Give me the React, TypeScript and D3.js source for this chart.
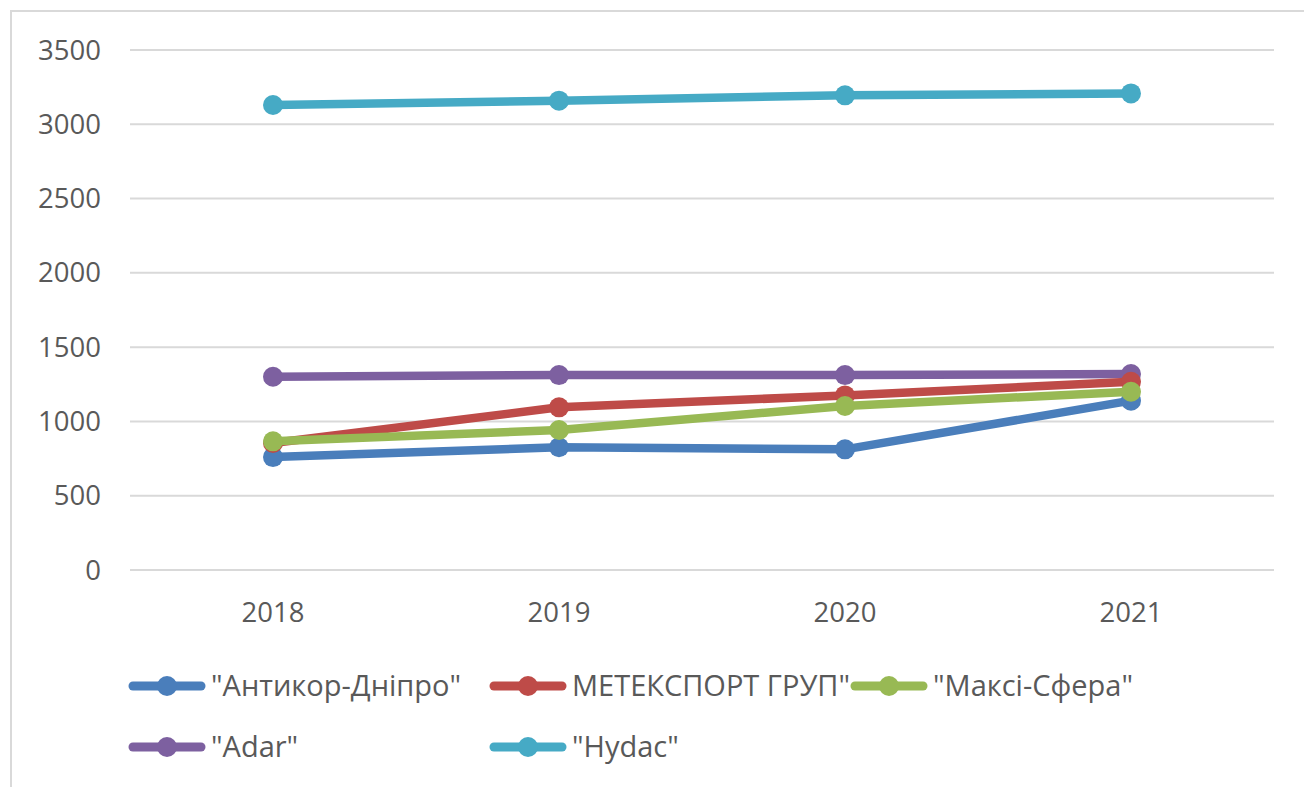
import React from "react";
import * as d3 from "d3";

const years = ["2018", "2019", "2020", "2021"];
const antikor = [760, 826, 812, 1140];
const meteksport = [855, 1095, 1175, 1267];
const maksi = [866, 942, 1104, 1200];
const adar = [1301, 1312, 1312, 1319];
const hydac = [3130, 3159, 3195, 3208];
const yTicks = [0, 500, 1000, 1500, 2000, 2500, 3000, 3500];

const seriesNames = ['"Антикор-Дніпро"', 'МЕТЕКСПОРТ ГРУП"', '"Максі-Сфера"', '"Adar"', '"Hydac"'];
const seriesColors = ["#4a7ebb", "#be4b48", "#98b954", "#7d60a0", "#46aac5"];
const seriesValues = [antikor, meteksport, maksi, adar, hydac];

const W = 1304;
const H = 787;
const plotLeft = 130;
const plotRight = 1274;
const plotTop = 50;
const plotBottom = 570;
const font = "'Open Sans', sans-serif";
const textColor = "#595959";

// legend layout
const legendPos = [
  { x: 129, y: 686 },
  { x: 490, y: 686 },
  { x: 851, y: 686 },
  { x: 129, y: 747 },
  { x: 490, y: 747 },
];

export default function App() {
  const x = d3.scaleBand<string>().domain(years).range([plotLeft, plotRight]).padding(0);
  const y = d3.scaleLinear().domain([0, 3500]).range([plotBottom, plotTop]);
  const line = d3
    .line<number>()
    .x((_, i) => (x(years[i]) as number) + x.bandwidth() / 2)
    .y((d) => y(d));

  const drawOrder = [4, 3, 0, 1, 2];

  return (
    <svg
      width={W}
      height={H}
      style={{ position: "absolute", left: 0, top: 0, background: "#fff" }}
      fontFamily={font}
    >
      <rect x={0} y={0} width={W} height={H} fill="#fff" />
      <rect x={11} y={11} width={W + 20} height={H + 20} fill="none" stroke="#d9d9d9" strokeWidth={2} />
      {yTicks.map((t) => (
        <g key={t}>
          <line x1={plotLeft} x2={plotRight} y1={y(t)} y2={y(t)} stroke="#d9d9d9" strokeWidth={2} />
          <text x={101} y={y(t)} dy="0.35em" textAnchor="end" fontSize={27.5} fill={textColor}>
            {t}
          </text>
        </g>
      ))}
      {years.map((yr) => (
        <text
          key={yr}
          x={(x(yr) as number) + x.bandwidth() / 2}
          y={612}
          dy="0.35em"
          textAnchor="middle"
          fontSize={27.5}
          fill={textColor}
        >
          {yr}
        </text>
      ))}
      {drawOrder.map((si) => (
        <g key={si}>
          <path
            d={line(seriesValues[si]) || ""}
            fill="none"
            stroke={seriesColors[si]}
            strokeWidth={8.5}
            strokeLinejoin="round"
            strokeLinecap="round"
          />
          {seriesValues[si].map((v, i) => (
            <circle
              key={i}
              cx={(x(years[i]) as number) + x.bandwidth() / 2}
              cy={y(v)}
              r={10}
              fill={seriesColors[si]}
            />
          ))}
        </g>
      ))}
      {seriesNames.map((name, i) => {
        const p = legendPos[i];
        return (
          <g key={name}>
            <line
              x1={p.x + 4}
              x2={p.x + 72}
              y1={p.y}
              y2={p.y}
              stroke={seriesColors[i]}
              strokeWidth={9}
              strokeLinecap="round"
            />
            <circle cx={p.x + 38} cy={p.y} r={10} fill={seriesColors[i]} />
            <text x={p.x + 82} y={p.y} dy="0.35em" fontSize={29} fill={textColor}>
              {name}
            </text>
          </g>
        );
      })}
    </svg>
  );
}
